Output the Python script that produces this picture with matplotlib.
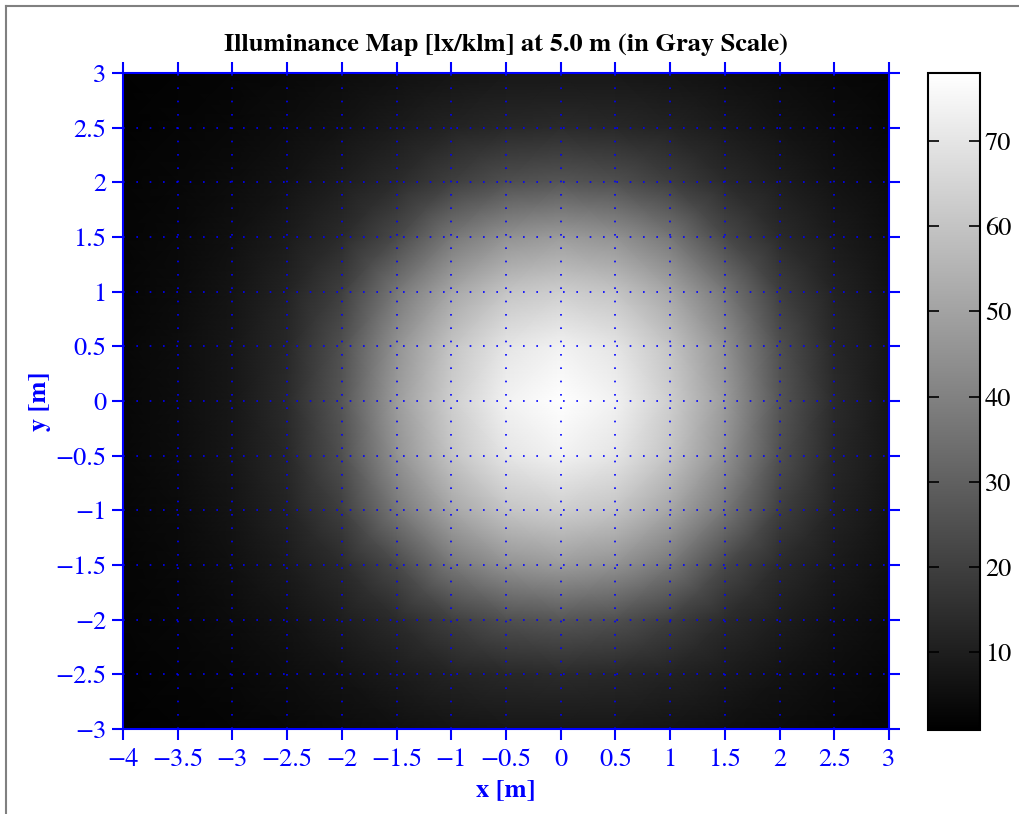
import numpy as np
import matplotlib
matplotlib.use('Agg')
import matplotlib.pyplot as plt
from matplotlib.lines import Line2D

#### DATA ####
# grid nodes of the map (m)
x_nodes = [-4, -3.5, -3, -2.5, -2, -1.5, -1, -0.5, 0, 0.5, 1, 1.5, 2, 2.5, 3]
y_nodes = [3, 2.5, 2, 1.5, 1, 0.5, 0, -0.5, -1, -1.5, -2, -2.5, -3]

# illuminance [lx/klm], one row per y node (top to bottom)
row_y3 = [1.3, 1.9, 2.6, 3.5, 4.5, 5.8, 7, 7.8, 8, 7.8, 7, 5.8, 4.5, 3.5, 2.6]
row_y25 = [1.7, 2.5, 3.5, 4.8, 6.7, 9, 11.5, 13, 14, 13, 11.5, 9, 6.7, 4.8, 3.5]
row_y2 = [2.1, 3.1, 4.5, 6.7, 10, 14, 20, 25, 27, 25, 20, 14, 10, 6.7, 4.5]
row_y15 = [2.5, 3.8, 5.8, 9, 14, 23, 37, 45, 48, 45, 37, 23, 14, 9, 5.8]
row_y1 = [2.9, 4.4, 7, 11.5, 20, 37, 51, 60, 63, 60, 51, 37, 20, 11.5, 7]
row_y05 = [3.1, 4.8, 7.8, 13, 25, 45, 60, 70, 74, 70, 60, 45, 25, 13, 7.8]
row_y0 = [3.2, 4.8, 8, 14, 27, 48, 63, 74, 78, 74, 63, 48, 27, 14, 8]
row_ym05 = [3.1, 4.8, 7.8, 13, 25, 45, 60, 70, 74, 70, 60, 45, 25, 13, 7.8]
row_ym1 = [2.9, 4.4, 7, 11.5, 20, 37, 51, 60, 63, 60, 51, 37, 20, 11.5, 7]
row_ym15 = [2.5, 3.8, 5.8, 9, 14, 23, 37, 45, 48, 45, 37, 23, 14, 9, 5.8]
row_ym2 = [2.1, 3.1, 4.5, 6.7, 10, 14, 20, 25, 27, 25, 20, 14, 10, 6.7, 4.5]
row_ym25 = [1.7, 2.5, 3.5, 4.8, 6.7, 9, 11.5, 13, 14, 13, 11.5, 9, 6.7, 4.8, 3.5]
row_ym3 = [1.3, 1.9, 2.6, 3.5, 4.5, 5.8, 7, 7.8, 8, 7.8, 7, 5.8, 4.5, 3.5, 2.6]

x_ticks = [-4, -3.5, -3, -2.5, -2, -1.5, -1, -0.5, 0, 0.5, 1, 1.5, 2, 2.5, 3]
y_ticks = [-3, -2.5, -2, -1.5, -1, -0.5, 0, 0.5, 1, 1.5, 2, 2.5, 3]
cbar_ticks = [10, 20, 30, 40, 50, 60, 70]
c_min, c_max = 0.85, 78

illum = np.array([row_y3, row_y25, row_y2, row_y15, row_y1, row_y05, row_y0,
                  row_ym05, row_ym1, row_ym15, row_ym2, row_ym25, row_ym3])

#### PLOT ####
plt.rcParams['font.family'] = ['STIXGeneral', 'Liberation Serif', 'DejaVu Serif']
plt.rcParams['axes.unicode_minus'] = True

fig = plt.figure(figsize=(10.19, 8.14), dpi=100)
ax = fig.add_axes([0.1207, 0.1044, 0.7517, 0.8059])
cax = fig.add_axes([0.9107, 0.1032, 0.051, 0.8071])

mesh = ax.pcolormesh(x_nodes, y_nodes, illum, cmap='gray', shading='gouraud',
                     vmin=c_min, vmax=c_max)
ax.set_xlim(-4, 3)
ax.set_ylim(-3, 3)
ax.set_xticks(x_ticks)
ax.set_yticks(y_ticks)
ax.set_xticklabels([('%g' % t).replace('-', '\u2212') for t in x_ticks])
ax.set_yticklabels([('%g' % t).replace('-', '\u2212') for t in y_ticks])

ax.set_axisbelow(False)
ax.grid(True, color='blue', linestyle=(0, (1, 7)), linewidth=1.2)
ax.tick_params(direction='out', length=8, width=1.5, colors='blue',
               labelsize=19, top=True, right=True, labelcolor='blue')
ax.tick_params(axis='x', pad=6)
ax.tick_params(axis='y', pad=4)
for sp in ax.spines.values():
    sp.set_color('blue')
    sp.set_linewidth(1.5)

cb = fig.colorbar(mesh, cax=cax, ticks=cbar_ticks)
cb.outline.set_linewidth(1.5)
cax.tick_params(direction='in', length=8, width=1.2, labelsize=19,
                left=True, right=True, colors='black')

fig.text(0.4966, 0.9447, 'Illuminance Map [lx/klm] at 5.0 m (in Gray Scale)',
         ha='center', va='center', fontsize=19, fontweight='bold')
fig.text(0.4966, 0.0295, 'x [m]', ha='center', va='center', fontsize=19,
         fontweight='bold', color='blue')
fig.text(0.039, 0.507, 'y [m]', ha='center', va='center', fontsize=19,
         fontweight='bold', color='blue', rotation=90)

# frame around the figure (left and top edges)
fig.add_artist(Line2D([5.5 / 1019, 5.5 / 1019], [0, 1 - 5.5 / 814],
                      transform=fig.transFigure, color='#808080', linewidth=1.5))
fig.add_artist(Line2D([5.5 / 1019, 1], [1 - 5.5 / 814, 1 - 5.5 / 814],
                      transform=fig.transFigure, color='#808080', linewidth=1.5))

fig.savefig('out.png', dpi=100)
